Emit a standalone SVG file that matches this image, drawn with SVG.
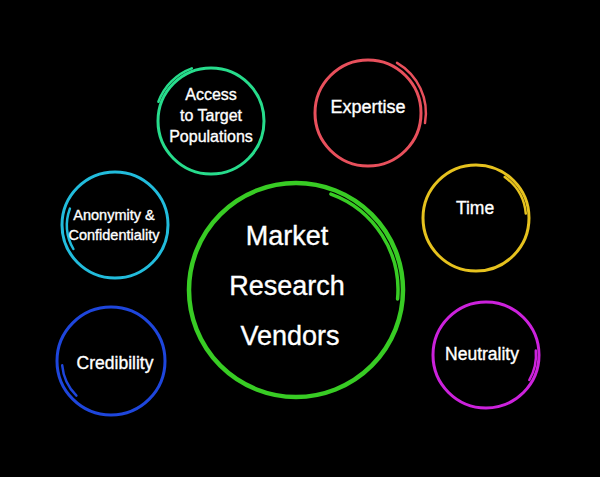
<svg xmlns="http://www.w3.org/2000/svg" width="600" height="477" viewBox="0 0 600 477">
<style>
.ring{fill:none;stroke-linecap:round}
.t{fill:#ffffff;stroke:#ffffff;stroke-width:0.35;font-family:"Liberation Sans",Arial,sans-serif;text-anchor:middle}
</style>
<rect x="0" y="0" width="600" height="477" fill="#000000"/>
<g id="connectors"/>
<g id="main">
<circle class="ring" cx="296" cy="290" r="107" stroke="#38cc24" stroke-width="4.5"/>
<path class="ring" d="M330.9,194.1 A102,102 0 0 1 397.6,298.9" stroke="#38cc24" stroke-width="3.5"/>
<text class="t" x="287" y="245" font-size="27">Market</text>
<text class="t" x="287" y="295" font-size="27">Research</text>
<text class="t" x="290" y="345" font-size="27">Vendors</text>
</g>
<g id="access">
<circle class="ring" cx="211" cy="121" r="53" stroke="#27dc8c" stroke-width="3"/>
<path class="ring" d="M158.4,101.8 A56,56 0 0 1 191.8,68.4" stroke="#27dc8c" stroke-width="2.5"/>
<text class="t" x="211" y="100" font-size="16">Access</text>
<text class="t" x="211" y="121" font-size="16">to Target</text>
<text class="t" x="211" y="142" font-size="16">Populations</text>
</g>
<g id="expertise">
<circle class="ring" cx="368" cy="113" r="53" stroke="#e8505c" stroke-width="3"/>
<path class="ring" d="M397,62.8 A58,58 0 0 1 425,123" stroke="#e8505c" stroke-width="2.5"/>
<text class="t" x="368" y="113" font-size="18">Expertise</text>
</g>
<g id="anonymity">
<circle class="ring" cx="115" cy="225" r="53" stroke="#22bcdc" stroke-width="3"/>
<path class="ring" d="M73.4,249 A48,48 0 0 1 69.9,208.6" stroke="#22bcdc" stroke-width="2.5"/>
<text class="t" x="114" y="220" font-size="14.5">Anonymity &amp;</text>
<text class="t" x="114" y="240" font-size="14.5">Confidentiality</text>
</g>
<g id="time">
<circle class="ring" cx="476" cy="218" r="53" stroke="#e6c21e" stroke-width="3"/>
<path class="ring" d="M504.7,177 A50,50 0 0 1 525.8,213.6" stroke="#e6c21e" stroke-width="2.5"/>
<text class="t" x="475" y="214" font-size="17.5">Time</text>
</g>
<g id="credibility">
<circle class="ring" cx="111" cy="361" r="54" stroke="#1e46dc" stroke-width="3"/>
<path class="ring" d="M62.2,365.3 A49,49 0 0 0 76.4,395.6" stroke="#1e46dc" stroke-width="2.5"/>
<text class="t" x="115" y="369" font-size="17.5">Credibility</text>
</g>
<g id="neutrality">
<circle class="ring" cx="486" cy="355" r="53" stroke="#cc22dc" stroke-width="3"/>
<path class="ring" d="M535.8,350.6 A50,50 0 0 1 529.3,380" stroke="#cc22dc" stroke-width="2.5"/>
<text class="t" x="482" y="360" font-size="17.5">Neutrality</text>
</g>
</svg>
